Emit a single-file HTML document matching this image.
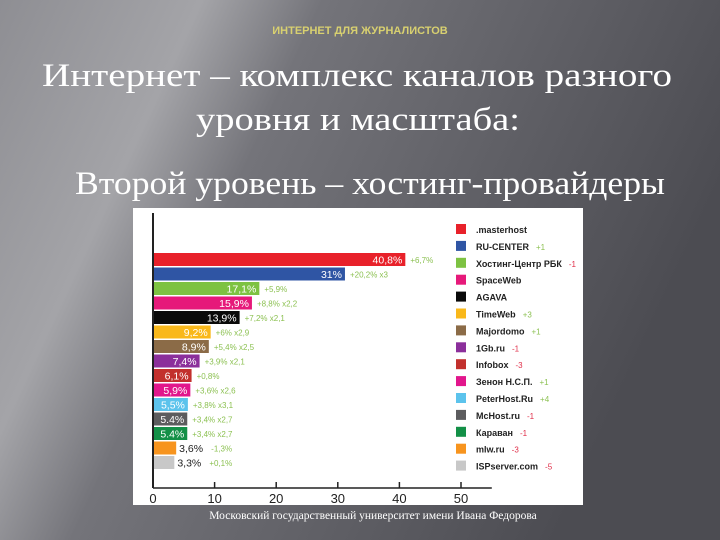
<!DOCTYPE html>
<html><head><meta charset="utf-8"><style>
body{margin:0;width:720px;height:540px;overflow:hidden;background:#5a5a60}
svg{display:block}
</style></head><body>
<svg width="720" height="540" xmlns="http://www.w3.org/2000/svg">
<defs>
<linearGradient id="bg" x1="0" y1="0" x2="1" y2="0.35">
<stop offset="0" stop-color="#8e8e93"/><stop offset="0.25" stop-color="#a4a4a8"/><stop offset="0.4" stop-color="#74747a"/><stop offset="1" stop-color="#4c4c52"/>
</linearGradient>
</defs>
<rect width="720" height="540" fill="url(#bg)"/>
<text x="360" y="34" text-anchor="middle" font-family="Liberation Sans, sans-serif" font-weight="bold" font-size="11" fill="#d8d070">ИНТЕРНЕТ ДЛЯ ЖУРНАЛИСТОВ</text>
<text x="42" y="86" textLength="630" lengthAdjust="spacingAndGlyphs" font-family="Liberation Serif, serif" font-size="33" fill="#fff">Интернет – комплекс каналов разного</text>
<text x="196" y="130" textLength="324" lengthAdjust="spacingAndGlyphs" font-family="Liberation Serif, serif" font-size="33" fill="#fff">уровня и масштаба:</text>
<text x="75" y="194" textLength="590" lengthAdjust="spacingAndGlyphs" font-family="Liberation Serif, serif" font-size="33" fill="#fff">Второй уровень – хостинг-провайдеры</text>
<rect x="133" y="208" width="450" height="297" fill="#fff"/>
<g id="chart"></g>
<text x="373" y="519" text-anchor="middle" font-family="Liberation Serif, serif" font-size="11.5" fill="#fff">Московский государственный университет имени Ивана Федорова</text>
</svg>
<script>
const names=[".masterhost","RU-CENTER","Хостинг-Центр РБК","SpaceWeb","AGAVA","TimeWeb","Majordomo","1Gb.ru","Infobox","Зенон Н.С.П.","PeterHost.Ru","McHost.ru","Караван","mlw.ru","ISPserver.com"];
const values=[40.8,31,17.1,15.9,13.9,9.2,8.9,7.4,6.1,5.9,5.5,5.4,5.4,3.6,3.3];
const valueLabels=["40,8%","31%","17,1%","15,9%","13,9%","9,2%","8,9%","7,4%","6,1%","5,9%","5,5%","5.4%","5.4%","3,6%","3,3%"];
const changes=["+6,7%","+20,2%  x3","+5,9%","+8,8%  x2,2","+7,2%  x2,1","+6%  x2,9","+5,4%  x2,5","+3,9%  x2,1","+0,8%","+3,6%  x2,6","+3,8%  x3,1","+3,4%  x2,7","+3,4%  x2,7","-1,3%","+0,1%"];
const rankChanges=["","+1","-1","","","+3","+1","-1","-3","+1","+4","-1","-1","-3","-5"];
const colors=["#e8212a","#2f55a4","#7dc242","#e6197a","#0a0a0a","#f9b81a","#8b6b47","#8b2f9b","#c2302d","#e2168c","#5cc3ec","#5c5c5e","#139047","#f7941e","#c8c8c8"];
const xTicks=[0,10,20,30,40,50];
const ns="http://www.w3.org/2000/svg";
const g=document.getElementById('chart');
const x0=153,pxPer=6.16,y0=253,pitch=14.5,bh=13;
const xs=v=>x0+v*pxPer;
const ys=i=>y0+i*pitch;
function mk(t,a,txt){const e=document.createElementNS(ns,t);for(const k in a)e.setAttribute(k,a[k]);if(txt!==undefined)e.textContent=txt;g.appendChild(e);return e;}
let e=mk('line',{x1:x0,y1:213,x2:x0,y2:488,stroke:'#222','stroke-width':2});

e=mk('line',{x1:x0,y1:488,x2:xs(55),y2:488,stroke:'#222','stroke-width':1.5});

xTicks.forEach(t=>{
 if(t>0){const l=mk('line',{x1:xs(t),y1:482,x2:xs(t),y2:488,stroke:'#222','stroke-width':1.5});
 }
 const tx=mk('text',{x:xs(t),y:503,'text-anchor':'middle','font-family':'Liberation Sans, sans-serif','font-size':13,fill:'#222'},String(t));
 
});
values.forEach((v,i)=>{
 const y=ys(i),w=v*pxPer;
 const r=mk('rect',{x:x0+1,y:y,width:w,height:bh,fill:colors[i]});
 
 
 const inside=v>5;
 const lb=mk('text',{x:inside?x0+w-2:x0+w+4,y:y+10.5,'text-anchor':inside?'end':'start','font-family':'Liberation Sans, sans-serif','font-size':10.5,fill:inside?'#fff':'#222'},valueLabels[i]);
 
 const cx=inside?x0+w+6:x0+w+36;
 const ch=mk('text',{x:cx,y:y+10,'font-family':'Liberation Sans, sans-serif','font-size':8,fill:'#8cc152','xml:space':'preserve'},changes[i]);
 
 const ly=229+i*16.9;
 const sq=mk('rect',{x:456,y:ly-5,width:10,height:10,fill:colors[i]});
 
 const nt=mk('text',{x:476,y:ly+4,'font-family':'Liberation Sans, sans-serif','font-size':9,'font-weight':'bold',fill:'#222'},names[i]);
 
 if(rankChanges[i]){
  const len=nt.getComputedTextLength?nt.getComputedTextLength():names[i].length*5;
  const rc=mk('text',{x:476+len+7,y:ly+4,'font-family':'Liberation Sans, sans-serif','font-size':8,fill:rankChanges[i][0]=='+'?'#8cc152':'#e0304a'},rankChanges[i]);
  
 }
});
</script>
</body></html>
